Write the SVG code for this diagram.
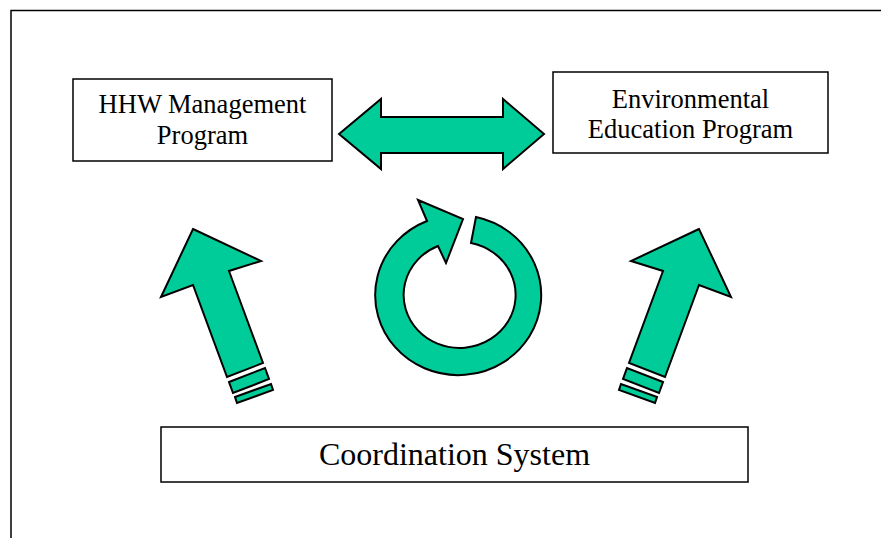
<svg xmlns="http://www.w3.org/2000/svg" width="881" height="538" viewBox="0 0 881 538">
<style>
.box{fill:#fff;stroke:#000;stroke-width:1.5}
.ar{fill:#00CC99;stroke:#000;stroke-width:2;stroke-linejoin:miter}
.t{font-family:"Liberation Serif","Times New Roman",serif;fill:#000;text-anchor:middle}
</style>
<rect width="881" height="538" fill="#fff"/>
<g id="frame"><path d="M11,538 V10.5 H881" fill="none" stroke="#000" stroke-width="1.5"/></g>
<g id="hhw"><rect class="box" x="73" y="79" width="259" height="82"/>
<text class="t" x="202.5" y="113" font-size="26.5">HHW Management</text>
<text class="t" x="202.5" y="144" font-size="26.5">Program</text></g>
<g id="env"><rect class="box" x="553" y="72" width="275" height="81"/>
<text class="t" x="690.5" y="108" font-size="26.5">Environmental</text>
<text class="t" x="690.5" y="138" font-size="26.5">Education Program</text></g>
<g id="coord"><rect class="box" x="161" y="427" width="587" height="55"/>
<text class="t" x="454.5" y="465" font-size="32">Coordination System</text></g>
<g id="connectors">
<polygon class="ar" points="339,134 381,99 381,117 503,117 503,99 544,134 503,169 503,153 381,153 381,169"/>
<path class="ar" d="M427,221 L418,200 L463,219 L446,263 L438,246 A56,53 0 1 0 471,243 L476,217 A83,80 0 1 1 427,221 Z"/>
<polygon class="ar" points="193,229 261,261 229,271 263,363 227,377 193,285 161,297"/>
<polygon class="ar" points="229,382 265,368 269,379 233,393"/>
<polygon class="ar" points="235,397 271,384 273,390 237,403"/>
<polygon class="ar" points="699,229 631,261 663,271 629,363 665,377 699,285 731,297"/>
<polygon class="ar" points="663,382 627,368 623,379 659,393"/>
<polygon class="ar" points="657,397 621,384 619,390 655,403"/>
</g>
</svg>
